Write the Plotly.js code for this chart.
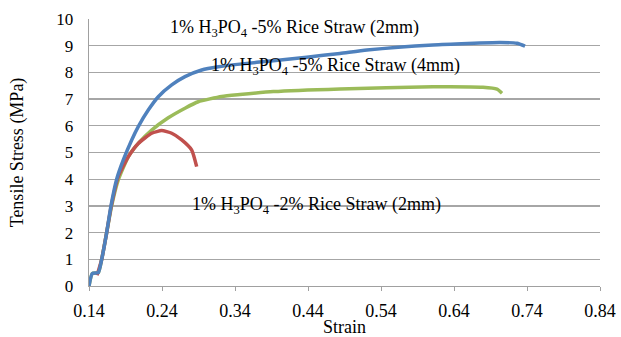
<!DOCTYPE html>
<html>
<head>
<meta charset="utf-8">
<script src="https://cdn.plot.ly/plotly-3.0.1.min.js"></script>
<style>
  html, body { margin: 0; padding: 0; background: #fff; }
  #chart { width: 621px; height: 337px; }
</style>
</head>
<body>
<div id="chart"></div>
<script>
// Stress-strain curves for H3PO4-treated rice straw composites
const strain5pct2mm = [0.14, 0.1445, 0.1527, 0.1574, 0.1642, 0.1701, 0.1779, 0.187, 0.1985, 0.2075, 0.2212, 0.2349, 0.2533, 0.2715, 0.2944, 0.3171, 0.3468, 0.3925, 0.4382, 0.4838, 0.5208, 0.6112, 0.703, 0.7263, 0.7373];
const stress5pct2mm = [0, 0.47, 0.5, 1.0, 2.0, 3.0, 4.0, 4.72, 5.47, 5.97, 6.59, 7.09, 7.53, 7.84, 8.09, 8.21, 8.31, 8.44, 8.57, 8.71, 8.84, 9.03, 9.12, 9.09, 8.98];

const strain5pct4mm = [0.14, 0.1445, 0.1527, 0.1574, 0.1642, 0.171, 0.1801, 0.1938, 0.2075, 0.2259, 0.2486, 0.2715, 0.2897, 0.3218, 0.3468, 0.3925, 0.4838, 0.6112, 0.6797, 0.6989, 0.7058];
const stress5pct4mm = [0, 0.47, 0.5, 1.0, 2.0, 3.0, 3.97, 4.84, 5.34, 5.84, 6.3, 6.66, 6.9, 7.1, 7.17, 7.28, 7.38, 7.46, 7.44, 7.37, 7.22];

const strain2pct2mm = [0.151, 0.1574, 0.1642, 0.1705, 0.18, 0.1938, 0.2075, 0.2259, 0.2396, 0.2533, 0.267, 0.2807, 0.2875];
const stress2pct2mm = [0.4, 1.0, 2.0, 3.0, 4.1, 4.84, 5.34, 5.72, 5.82, 5.72, 5.47, 5.09, 4.47];

const xTicks = [0.14, 0.24, 0.34, 0.44, 0.54, 0.64, 0.74, 0.84];
const yTicks = [0, 1, 2, 3, 4, 5, 6, 7, 8, 9, 10];

const labels = [
  {text: '1% H<sub>3</sub>PO<sub>4</sub> -5% Rice Straw (2mm)', x: 0.422, y: 9.64},
  {text: '1% H<sub>3</sub>PO<sub>4</sub> -5% Rice Straw (4mm)', x: 0.478, y: 8.22},
  {text: '1% H<sub>3</sub>PO<sub>4</sub> -2% Rice Straw (2mm)', x: 0.452, y: 3.0}
];

const serif = '"Liberation Serif", "Times New Roman", serif';

const traces = [
  {x: strain5pct4mm, y: stress5pct4mm, color: '#9BBB59'},
  {x: strain2pct2mm, y: stress2pct2mm, color: '#C0504D'},
  {x: strain5pct2mm, y: stress5pct2mm, color: '#4F81BD'}
].map(s => ({
  x: s.x, y: s.y, type: 'scatter', mode: 'lines',
  line: {color: s.color, width: 3.5, shape: 'spline', smoothing: 0.5},
  hoverinfo: 'skip', showlegend: false
}));

const layout = {
  width: 621, height: 337,
  margin: {l: 89, r: 21, t: 19, b: 51},
  paper_bgcolor: '#fff', plot_bgcolor: '#fff',
  font: {family: serif, size: 18, color: '#000'},
  xaxis: {
    range: [0.14, 0.84], tickvals: xTicks, ticktext: xTicks.map(v => v.toFixed(2)),
    showgrid: false, zeroline: false,
    showline: true, linecolor: '#a0a0a0', linewidth: 1.3,
    ticks: 'outside', ticklen: 4, tickcolor: '#a0a0a0',
    ticklabelstandoff: 4,
    tickfont: {family: serif, size: 18},
    title: {text: 'Strain', font: {family: serif, size: 18}, standoff: 13}
  },
  yaxis: {
    range: [0, 10], tickvals: yTicks,
    showgrid: true, gridcolor: '#a6a6a6', gridwidth: 1.3,
    zeroline: false, showline: true, linecolor: '#a0a0a0', linewidth: 1.3,
    ticks: '', ticklen: 0, ticklabelstandoff: 11,
    tickfont: {family: serif, size: 17},
    title: {text: 'Tensile Stress (MPa)', font: {family: serif, size: 18}, standoff: 28}
  },
  annotations: labels.map(a => ({
    text: a.text, x: a.x, y: a.y, xref: 'x', yref: 'y',
    showarrow: false, font: {family: serif, size: 18, color: '#000'}
  }))
};

Plotly.newPlot('chart', traces, layout, {displayModeBar: false, staticPlot: true});
</script>
</body>
</html>
